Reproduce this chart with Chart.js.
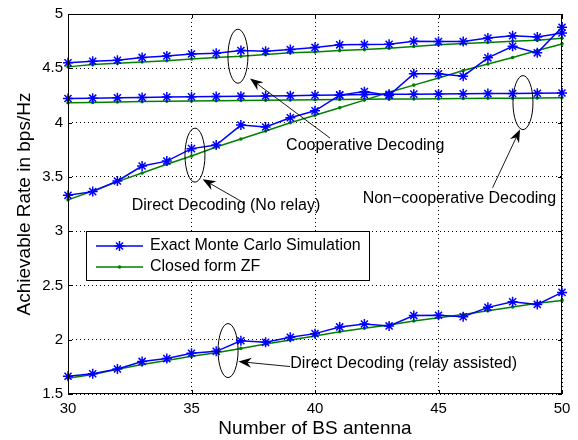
<!DOCTYPE html>
<html>
<head>
<meta charset="utf-8">
<script src="https://cdn.jsdelivr.net/npm/chart.js@4.4.1/dist/chart.umd.min.js"></script>
<style>
  html, body { margin: 0; padding: 0; background: #fff; }
  #chart { display: block; }
</style>
</head>
<body>
<canvas id="chart" width="578" height="440"></canvas>
<script>
// Number of BS antennas (x axis)
const antennaCounts = [30, 31, 32, 33, 34, 35, 36, 37, 38, 39, 40, 41, 42, 43, 44, 45, 46, 47, 48, 49, 50];

// Cooperative decoding
const coopExact = [4.55, 4.565, 4.574, 4.60, 4.614, 4.632, 4.638, 4.663, 4.657, 4.672, 4.692, 4.716, 4.719, 4.721, 4.749, 4.746, 4.746, 4.779, 4.80, 4.788, 4.825];
const coopZF = [4.513, 4.535, 4.547, 4.558, 4.57, 4.585, 4.60, 4.61, 4.627, 4.642, 4.651, 4.663, 4.672, 4.684, 4.70, 4.716, 4.728, 4.737, 4.749, 4.758, 4.777];

// Non-cooperative decoding
const nonCoopExact = [4.222, 4.225, 4.228, 4.232, 4.235, 4.238, 4.24, 4.243, 4.245, 4.248, 4.252, 4.255, 4.258, 4.26, 4.262, 4.264, 4.266, 4.267, 4.268, 4.27, 4.272];
const nonCoopZF = [4.182, 4.186, 4.19, 4.193, 4.196, 4.199, 4.202, 4.204, 4.206, 4.208, 4.21, 4.212, 4.214, 4.216, 4.218, 4.22, 4.222, 4.224, 4.225, 4.226, 4.228];

// Direct decoding (no relay)
const directExact = [3.33, 3.364, 3.462, 3.60, 3.645, 3.76, 3.793, 3.977, 3.959, 4.044, 4.108, 4.253, 4.285, 4.25, 4.45, 4.45, 4.427, 4.596, 4.703, 4.642, 4.878];
const directZF = [3.288, 3.37, 3.456, 3.536, 3.616, 3.692, 3.775, 3.848, 3.922, 3.998, 4.068, 4.136, 4.207, 4.28, 4.345, 4.41, 4.479, 4.54, 4.60, 4.663, 4.724];

// Direct decoding (relay assisted)
const relayExact = [1.664, 1.686, 1.73, 1.80, 1.826, 1.875, 1.893, 1.99, 1.976, 2.022, 2.056, 2.118, 2.145, 2.127, 2.222, 2.225, 2.212, 2.298, 2.35, 2.325, 2.436];
const relayZF = [1.645, 1.679, 1.727, 1.771, 1.808, 1.847, 1.88, 1.92, 1.961, 1.998, 2.035, 2.074, 2.105, 2.136, 2.173, 2.203, 2.233, 2.267, 2.301, 2.335, 2.362];

const legendLabels = ['Exact Monte Carlo Simulation', 'Closed form ZF'];

const FONT = "'Liberation Sans', Arial, Helvetica, sans-serif";
const BLUE = '#0000ff';
const GREEN = '#008000';

const toPoints = values => values.map((v, i) => ({x: antennaCounts[i], y: v}));

const exactStyle = {
    borderColor: BLUE,
    backgroundColor: BLUE,
    borderWidth: 1.5,
    pointStyle: 'star',
    pointRadius: 5,
    pointBorderWidth: 1.5,
    pointBorderColor: BLUE,
    clip: false
};
const zfStyle = {
    borderColor: GREEN,
    backgroundColor: GREEN,
    borderWidth: 1.5,
    pointStyle: 'circle',
    pointRadius: 1.8,
    pointBorderWidth: 0,
    pointBackgroundColor: GREEN,
    clip: false
};

const datasets = [
    {label: legendLabels[0], data: toPoints(coopExact), ...exactStyle},
    {label: legendLabels[0], data: toPoints(nonCoopExact), ...exactStyle},
    {label: legendLabels[0], data: toPoints(directExact), ...exactStyle},
    {label: legendLabels[0], data: toPoints(relayExact), ...exactStyle},
    {label: legendLabels[1], data: toPoints(coopZF), ...zfStyle},
    {label: legendLabels[1], data: toPoints(nonCoopZF), ...zfStyle},
    {label: legendLabels[1], data: toPoints(directZF), ...zfStyle},
    {label: legendLabels[1], data: toPoints(relayZF), ...zfStyle}
];

// Callouts: ellipse around a curve, arrow from the label to the ellipse (data units)
const callouts = [
    {text: 'Cooperative Decoding', ellipse: [36.88, 4.611], head: [37.37, 4.406], tail: [40.61, 3.857], label: [38.83, 3.79]},
    {text: 'Direct Decoding (No relay)', ellipse: [35.14, 3.70], head: [35.45, 3.478], tail: [37.17, 3.254], label: [32.58, 3.232]},
    {text: 'Non\u2212cooperative Decoding', ellipse: [48.42, 4.184], head: [48.30, 3.937], tail: [47.19, 3.40], label: [41.93, 3.301]},
    {text: 'Direct Decoding (relay assisted)', ellipse: [36.48, 1.90], head: [36.90, 1.799], tail: [38.99, 1.753], label: [39.0, 1.776]}
];

function drawArrow(ctx, x0, y0, x1, y1) {
    const ang = Math.atan2(y1 - y0, x1 - x0);
    const len = 13, half = 5, back = 9;
    ctx.beginPath();
    ctx.moveTo(x0, y0);
    ctx.lineTo(x1 - Math.cos(ang) * back, y1 - Math.sin(ang) * back);
    ctx.stroke();
    const c = Math.cos(ang), s = Math.sin(ang);
    ctx.beginPath();
    ctx.moveTo(x1, y1);
    ctx.lineTo(x1 - c * len - s * half, y1 - s * len + c * half);
    ctx.lineTo(x1 - c * back, y1 - s * back);
    ctx.lineTo(x1 - c * len + s * half, y1 - s * len - c * half);
    ctx.closePath();
    ctx.fill();
}

function drawStar(ctx, x, y, r) {
    ctx.beginPath();
    for (let k = 0; k < 4; k++) {
        const a = k * Math.PI / 4;
        ctx.moveTo(x - Math.cos(a) * r, y - Math.sin(a) * r);
        ctx.lineTo(x + Math.cos(a) * r, y + Math.sin(a) * r);
    }
    ctx.stroke();
}

const matlabAxesPlugin = {
    id: 'matlabAxes',
    afterDatasetsDraw(chart) {
        const {ctx, chartArea: a, scales: {x, y}} = chart;
        ctx.save();
        // box and inward ticks
        ctx.strokeStyle = '#000';
        ctx.lineWidth = 1;
        ctx.strokeRect(a.left + 0.5, a.top + 0.5, a.right - a.left - 1, a.bottom - a.top - 1);
        ctx.beginPath();
        x.ticks.forEach(t => {
            const px = Math.round(x.getPixelForValue(t.value)) + 0.5;
            ctx.moveTo(px, a.bottom); ctx.lineTo(px, a.bottom - 4);
            ctx.moveTo(px, a.top); ctx.lineTo(px, a.top + 4);
        });
        y.ticks.forEach(t => {
            const py = Math.round(y.getPixelForValue(t.value)) + 0.5;
            ctx.moveTo(a.left, py); ctx.lineTo(a.left + 4, py);
            ctx.moveTo(a.right, py); ctx.lineTo(a.right - 4, py);
        });
        ctx.stroke();

        // callouts
        ctx.fillStyle = '#000';
        ctx.font = '16px ' + FONT;
        ctx.textBaseline = 'middle';
        ctx.textAlign = 'left';
        callouts.forEach(c => {
            ctx.lineWidth = 1;
            ctx.beginPath();
            ctx.ellipse(x.getPixelForValue(c.ellipse[0]), y.getPixelForValue(c.ellipse[1]), 10, 27, 0, 0, Math.PI * 2);
            ctx.stroke();
            ctx.lineWidth = 0.9;
            drawArrow(ctx,
                x.getPixelForValue(c.tail[0]), y.getPixelForValue(c.tail[1]),
                x.getPixelForValue(c.head[0]), y.getPixelForValue(c.head[1]));
            ctx.fillText(c.text, x.getPixelForValue(c.label[0]), y.getPixelForValue(c.label[1]));
        });

        // legend box
        const bx = 86, by = 231, bw = 283, bh = 49;
        ctx.fillStyle = '#fff';
        ctx.fillRect(bx, by, bw, bh);
        ctx.strokeStyle = '#000';
        ctx.lineWidth = 1;
        ctx.strokeRect(bx + 0.5, by + 0.5, bw, bh);
        const rows = [
            {label: legendLabels[0], color: BLUE, y: 246, marker: 'star'},
            {label: legendLabels[1], color: GREEN, y: 267, marker: 'dot'}
        ];
        rows.forEach(r => {
            ctx.strokeStyle = r.color;
            ctx.fillStyle = r.color;
            ctx.lineWidth = 1.5;
            ctx.beginPath();
            ctx.moveTo(96, r.y); ctx.lineTo(143, r.y);
            ctx.stroke();
            if (r.marker === 'star') {
                drawStar(ctx, 119.5, r.y, 5);
            } else {
                ctx.beginPath();
                ctx.arc(119.5, r.y, 1.8, 0, Math.PI * 2);
                ctx.fill();
            }
            ctx.fillStyle = '#000';
            ctx.fillText(r.label, 150, r.y);
        });
        ctx.restore();
    }
};

new Chart(document.getElementById('chart'), {
    type: 'line',
    data: {datasets},
    options: {
        responsive: false,
        animation: false,
        devicePixelRatio: 1,
        layout: {padding: {top: 13, right: 16, left: 0, bottom: 0}},
        elements: {line: {tension: 0}},
        plugins: {legend: {display: false}, tooltip: {enabled: false}},
        scales: {
            x: {
                type: 'linear',
                min: 30,
                max: 50,
                ticks: {stepSize: 5, color: '#000', font: {family: FONT, size: 15}, padding: 6, maxRotation: 0},
                grid: {color: '#000', lineWidth: 1, drawTicks: false},
                border: {display: false, dash: [1, 3]},
                title: {display: true, text: 'Number of BS antenna', color: '#000', font: {family: FONT, size: 19}, padding: {top: 0, bottom: 0}},
                afterFit: scale => { scale.height = 46; }
            },
            y: {
                min: 1.5,
                max: 5,
                ticks: {
                    stepSize: 0.5, color: '#000', font: {family: FONT, size: 15}, padding: 5,
                    callback: value => String(Number(value.toFixed(2)))
                },
                grid: {color: '#000', lineWidth: 1, drawTicks: false},
                border: {display: false, dash: [1, 3]},
                title: {display: true, text: 'Achievable Rate in bps/Hz', color: '#000', font: {family: FONT, size: 19}, padding: {top: 13, bottom: 0}},
                afterFit: scale => { scale.width = 68; }
            }
        }
    },
    plugins: [matlabAxesPlugin]
});
</script>
</body>
</html>
